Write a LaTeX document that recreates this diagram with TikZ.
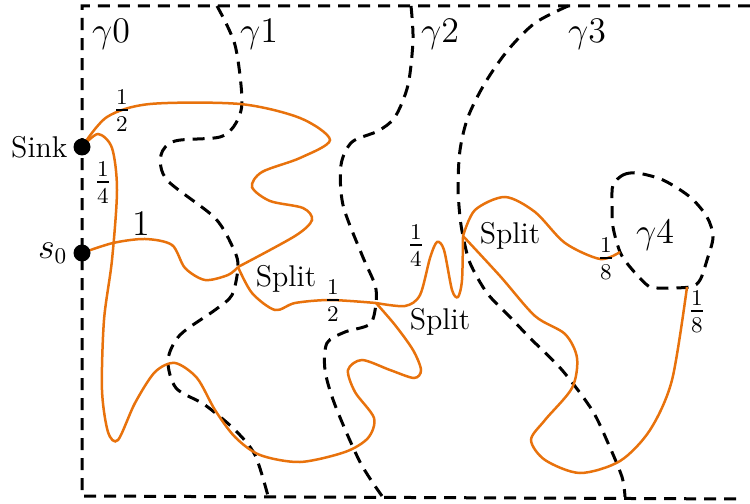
\documentclass[tikz,border=0pt]{standalone}
\usepackage{amsmath}
\usepackage{tikz}
\definecolor{flow}{RGB}{232,114,12}

\begin{document}
\begin{tikzpicture}[x=0.4pt,y=-0.4pt]
  \tikzset{cut/.style={line width=1.2pt,dash pattern=on 4.8pt off 3.2pt},
           flowline/.style={draw=flow,line width=1pt},
           dot/.style={circle,fill,inner sep=0pt,minimum size=6.8pt},
           mlbl/.style={font=\fontsize{13.5}{16}\selectfont,inner sep=1pt},
           word/.style={font=\large,inner sep=1pt}}
  \useasboundingbox (0,0) rectangle (750,504);
  \coordinate (sink) at (82,147);
  \coordinate (src) at (82,253);
  \coordinate (split1) at (238,267);
  \coordinate (split2) at (376,303);
  \coordinate (split3) at (463,236);
  \coordinate (in1) at (620,252);
  \coordinate (in2) at (687,287);
  \draw[cut] (750,6) -- (82,6) -- (82,496) -- (742,499);
  \draw[cut] plot[smooth] coordinates {(217,6) (235,45) (242,100) (236,123) (220,137) (175,141) (161,155) (167,180) (215,218) (234,250) (split1) (232,295) (215,310) (180,335) (168,360) (176,388) (205,405) (235,430) (255,455) (268,496)};
  \draw[cut] plot[smooth] coordinates {(411,6) (413,40) (408,85) (395,117) (378,131) (352,142) (341,165) (343,205) (362,255) (375,285) (split2) (370,324) (345,332) (327,343) (325,370) (335,405) (360,462) (382,496)};
  \draw[cut] plot[smooth] coordinates {(568,6) (535,23) (508,50) (485,83) (468,117) (460,150) (458,187) (460,217) (split3) (470,263) (487,293) (510,317) (530,338) (562,370) (592,410) (608,443) (622,477) (625,497)};
  \draw[cut] plot[smooth cycle] coordinates {(613,185) (623,175) (637,173) (663,180) (690,197) (707,217) (713,237) (707,260) (700,280) (690,287) (657,288) (647,285) (630,267) (in1) (613,227) (612,203)};
  \draw[flowline] plot[smooth] coordinates {(src) (113,243) (145,239) (172,245) (185,268) (205,280) (228,275) (split1)};
  \draw[flowline] plot[smooth] coordinates {(sink) (107,117) (150,104) (240,104) (300,118) (330,140) (300,158) (262,172) (252,187) (270,201) (303,208) (312,220) (295,236) (split1)};
  \draw[flowline] plot[smooth] coordinates {(split1) (252,293) (275,310) (295,303) (330,300) (split2)};
  \draw[flowline] plot[smooth] coordinates {(split2) (405,306) (420,295) (430,258) (437,242) (444,250) (452,290) (458,297) (462,280) (split3)};
  \draw[flowline] plot[smooth] coordinates {(split2) (395,325) (413,350) (421,370) (414,378) (390,370) (362,360) (348,370) (355,392) (374,418) (368,438) (345,452) (300,462) (260,455) (235,437) (215,410) (197,378) (175,363) (155,372) (135,403) (118,440) (108,432) (102,390) (104,320) (112,260) (117,190) (112,148) (98,134) (sink)};
  \draw[flowline] plot[smooth] coordinates {(split3) (475,210) (505,197) (535,212) (565,243) (600,259) (in1)};
  \draw[flowline] plot[smooth] coordinates {(split3) (500,276) (535,316) (565,334) (577,358) (572,388) (545,420) (531,440) (545,460) (580,473) (620,461) (650,430) (672,380) (in2)};
  \node[dot,label={[word,label distance=1pt]left:Sink}] (sinkdot) at (sink) {};
  \node[dot,label={[mlbl,label distance=1pt]left:$s_0$}] (srcdot) at (src) {};
  \node[mlbl] (g0) at (111,34) {$\gamma0$};
  \node[mlbl] (g1) at (259,34) {$\gamma1$};
  \node[mlbl] (g2) at (440,34) {$\gamma2$};
  \node[mlbl] (g3) at (587,34) {$\gamma3$};
  \node[mlbl] (g4) at (655,235) {$\gamma4$};
  \node[mlbl] (wtop) at (122,111) {$\frac{1}{2}$};
  \node[mlbl] (wback) at (103,183) {$\frac{1}{4}$};
  \node[mlbl] (wsrc) at (141,224) {$1$};
  \node[mlbl] (wmid) at (333,301) {$\frac{1}{2}$};
  \node[mlbl] (wspike) at (416,246) {$\frac{1}{4}$};
  \node[mlbl] (win1) at (606,259) {$\frac{1}{8}$};
  \node[mlbl] (win2) at (697,312) {$\frac{1}{8}$};
  \node[word] (sp1) at (286,279) {Split};
  \node[word] (sp2) at (440,322) {Split};
  \node[word] (sp3) at (510,236) {Split};
\end{tikzpicture}
\end{document}
